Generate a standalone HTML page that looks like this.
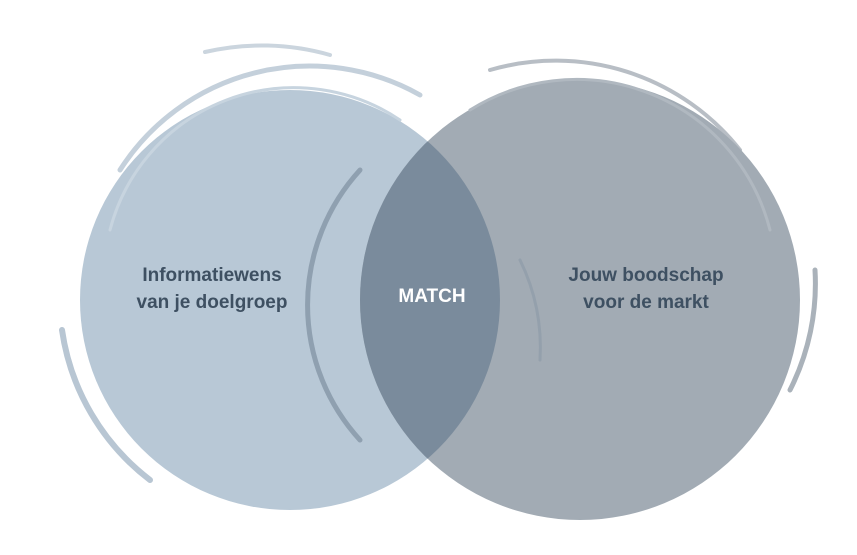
<!DOCTYPE html>
<html><head><meta charset="utf-8"><style>
html,body{margin:0;padding:0;background:#fff;}
svg{display:block;}
text{font-family:"Liberation Sans",sans-serif;font-weight:bold;}
</style></head><body>
<svg width="857" height="555" viewBox="0 0 857 555">
<defs>
<clipPath id="cl"><circle cx="290" cy="300" r="210"/></clipPath>
</defs>
<g fill="none" stroke-linecap="round">
<path d="M120,170 A225,225 0 0 1 420,95" stroke="#c4d0db" stroke-width="5"/>
<path d="M62,330 A230,230 0 0 0 150,480" stroke="#b8c6d3" stroke-width="6"/>
<path d="M205,52 A250,250 0 0 1 330,55" stroke="#cbd5de" stroke-width="4"/>
<path d="M490,70 A235,235 0 0 1 740,150" stroke="#b8bec5" stroke-width="4"/>
<path d="M815,270 A235,235 0 0 1 790,390" stroke="#aab2ba" stroke-width="5"/>
</g>
<circle cx="290" cy="300" r="210" fill="#b8c8d6"/>
<circle cx="580" cy="300" r="220" fill="#a2abb4"/>
<circle cx="580" cy="300" r="220" fill="#7a8b9c" clip-path="url(#cl)"/>
<g fill="none" stroke-linecap="round">
<path d="M110,230 A190,190 0 0 1 400,120" stroke="#c7d4df" stroke-width="3"/>
<path d="M470,110 A200,200 0 0 1 770,230" stroke="#b0b8c0" stroke-width="3"/>
<path d="M360,170 A200,200 0 0 0 360,440" stroke="#8fa0b0" stroke-width="5"/>
<path d="M520,260 A200,200 0 0 1 540,360" stroke="#94a0ac" stroke-width="3"/>
</g>
<text x="212" y="281" text-anchor="middle" font-size="19" fill="#3e5062">Informatiewens</text>
<text x="212" y="308" text-anchor="middle" font-size="19" fill="#3e5062">van je doelgroep</text>
<text x="432" y="302" text-anchor="middle" font-size="19" fill="#fff">MATCH</text>
<text x="646" y="281" text-anchor="middle" font-size="19" fill="#3e5062">Jouw boodschap</text>
<text x="646" y="308" text-anchor="middle" font-size="19" fill="#3e5062">voor de markt</text>
</svg>
</body></html>
